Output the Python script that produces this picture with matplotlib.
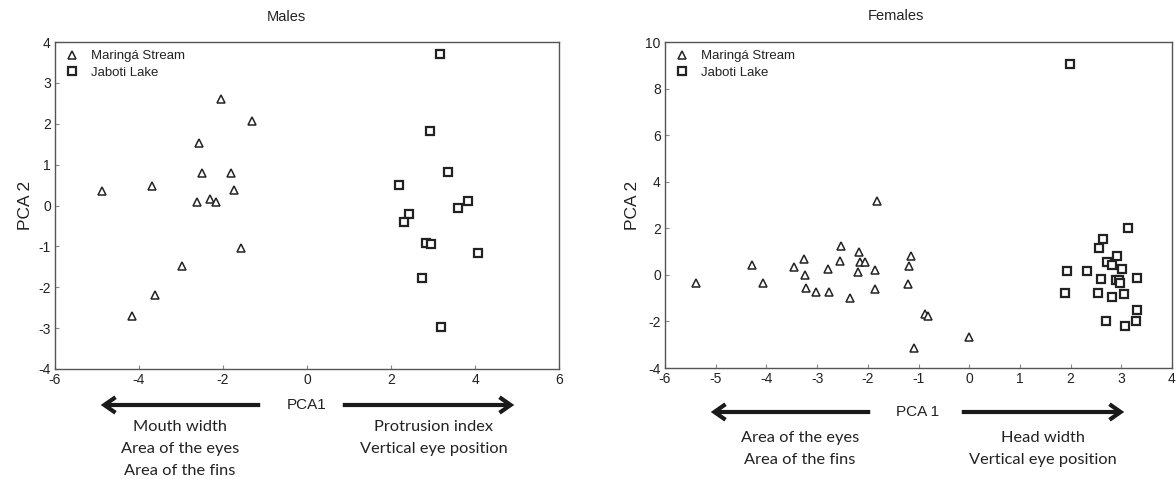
import matplotlib
matplotlib.use("Agg")
import matplotlib.pyplot as plt

# ---------------- data ----------------
males_maringa_x = [-4.89, -3.69, -2.04, -1.32, -2.57, -2.51, -1.82, -1.75, -2.61, -2.32, -2.16, -1.58, -2.98, -3.61, -4.16]
males_maringa_y = [0.36, 0.47, 2.61, 2.06, 1.52, 0.80, 0.80, 0.37, 0.09, 0.17, 0.09, -1.05, -1.47, -2.20, -2.70]
males_jaboti_x = [3.17, 2.92, 3.35, 2.18, 3.83, 3.60, 2.43, 2.30, 2.84, 2.96, 4.08, 2.73, 3.20]
males_jaboti_y = [3.71, 1.82, 0.83, 0.50, 0.12, -0.07, -0.22, -0.40, -0.91, -0.94, -1.15, -1.78, -2.97]

fem_maringa_x = [-5.38, -4.29, -4.07, -3.46, -3.26, -3.23, -3.21, -3.03, -2.78, -2.76, -2.54, -2.52, -2.36,
                 -2.17, -2.20, -2.15, -2.05, -1.86, -1.86, -1.81, -1.20, -1.19, -1.14, -1.09, -0.88, -0.82, -0.01]
fem_maringa_y = [-0.36, 0.43, -0.34, 0.32, 0.67, -0.01, -0.57, -0.73, 0.25, -0.75, 0.60, 1.26, -1.01,
                 0.98, 0.11, 0.57, 0.57, 0.20, -0.60, 3.16, -0.41, 0.36, 0.81, -3.12, -1.68, -1.75, -2.65]
fem_jaboti_x = [1.99, 3.13, 2.64, 2.57, 2.92, 2.71, 2.81, 3.02, 1.93, 2.33, 3.30, 2.59, 2.89, 2.95, 2.97,
                1.89, 2.54, 2.81, 3.06, 3.30, 2.70, 3.29, 3.07]
fem_jaboti_y = [9.05, 2.00, 1.54, 1.17, 0.81, 0.54, 0.42, 0.25, 0.18, 0.15, -0.14, -0.17, -0.24, -0.20, -0.36,
                -0.77, -0.80, -0.94, -0.84, -1.50, -1.97, -1.97, -2.18]

series_labels = ["Maringá Stream", "Jaboti Lake"]
males_xticks = [-6, -4, -2, 0, 2, 4, 6]
males_yticks = [-4, -3, -2, -1, 0, 1, 2, 3, 4]
fem_xticks = [-6, -5, -4, -3, -2, -1, 0, 1, 2, 3, 4]
fem_yticks = [-4, -2, 0, 2, 4, 6, 8, 10]

# ---------------- style ----------------
W, H = 1176, 479
fig = plt.figure(figsize=(W / 100, H / 100), dpi=100)
TXT = "#222222"
SPINE = "#555555"
SANS = ["Liberation Sans", "DejaVu Sans"]
ANN = ["Lato", "DejaVu Sans"]


def px_axes(x0, x1, ytop, ybot):
    return fig.add_axes([x0 / W, 1 - ybot / H, (x1 - x0) / W, (ybot - ytop) / H])


def style(ax, xt, yt, xlim, ylim):
    ax.set_xlim(*xlim)
    ax.set_ylim(*ylim)
    ax.set_xticks(xt)
    ax.set_yticks(yt)
    ax.set_xticklabels([str(v) for v in xt], family=SANS, fontsize=10, color=TXT)
    ax.set_yticklabels([str(v) for v in yt], family=SANS, fontsize=10, color=TXT)
    ax.tick_params(direction="in", length=3, width=0.8, color="#888888", pad=3)
    for s in ax.spines.values():
        s.set_color(SPINE)
        s.set_linewidth(1.0)
    ax.set_ylabel("PCA 2", family=SANS, fontsize=12.5, color=TXT, labelpad=4)


def scatter(ax, mx, my, jx, jy):
    ax.plot(mx, my, linestyle="none", marker="^", markersize=6, markerfacecolor="white",
            markeredgecolor="#222222", markeredgewidth=1.1, label=series_labels[0])
    ax.plot(jx, jy, linestyle="none", marker="s", markersize=6, markerfacecolor="white",
            markeredgecolor="#222222", markeredgewidth=1.6, label=series_labels[1])
    ax.legend(loc="upper left", frameon=False, prop={"family": SANS, "size": 9.5},
              handlelength=1.0, handletextpad=0.9, borderaxespad=0.2, labelspacing=0.35,
              markerscale=0.85, labelcolor=TXT, bbox_to_anchor=(0.005, 1.0))


# Males
ax1 = px_axes(55, 559, 42, 369)
scatter(ax1, males_maringa_x, males_maringa_y, males_jaboti_x, males_jaboti_y)
style(ax1, males_xticks, males_yticks, (-6, 6), (-4, 4))
fig.text(286 / W, 1 - 17 / H, "Males", ha="center", va="center", family=SANS, fontsize=10.5, color=TXT)

# Females
ax2 = px_axes(665, 1172, 42, 368)
scatter(ax2, fem_maringa_x, fem_maringa_y, fem_jaboti_x, fem_jaboti_y)
style(ax2, fem_xticks, fem_yticks, (-6, 4), (-4, 10))
fig.text(896 / W, 1 - 16 / H, "Females", ha="center", va="center", family=SANS, fontsize=10.5, color=TXT)


def arrow(x_from, x_to, y):
    fig.add_artist(matplotlib.patches.FancyArrowPatch(
        (x_from / W, 1 - y / H), (x_to / W, 1 - y / H), transform=fig.transFigure,
        arrowstyle="->,head_length=5,head_width=3.5", mutation_scale=1.6,
        linewidth=3.0, color="#1a1a1a", capstyle="butt", joinstyle="miter"))


def ftext(x, y, s, fam=ANN, size=11.8):
    fig.text(x / W, 1 - y / H, s, ha="center", va="center", family=fam, fontsize=size, color=TXT)


# Males annotations
arrow(263, 98, 405)
arrow(340, 517, 405)
ftext(307, 405, "PCA1", fam=SANS, size=11)
ftext(180, 427, "Mouth width")
ftext(180, 449, "Area of the eyes")
ftext(180, 471, "Area of the fins")
ftext(434, 427, "Protrusion index")
ftext(434, 449, "Vertical eye position")

# Females annotations
arrow(873, 708, 412)
arrow(959, 1127, 412)
ftext(918, 412, "PCA 1", fam=SANS, size=11)
ftext(800, 438, "Area of the eyes")
ftext(800, 460, "Area of the fins")
ftext(1043, 438, "Head width")
ftext(1043, 460, "Vertical eye position")

fig.savefig("out.png", dpi=100)
